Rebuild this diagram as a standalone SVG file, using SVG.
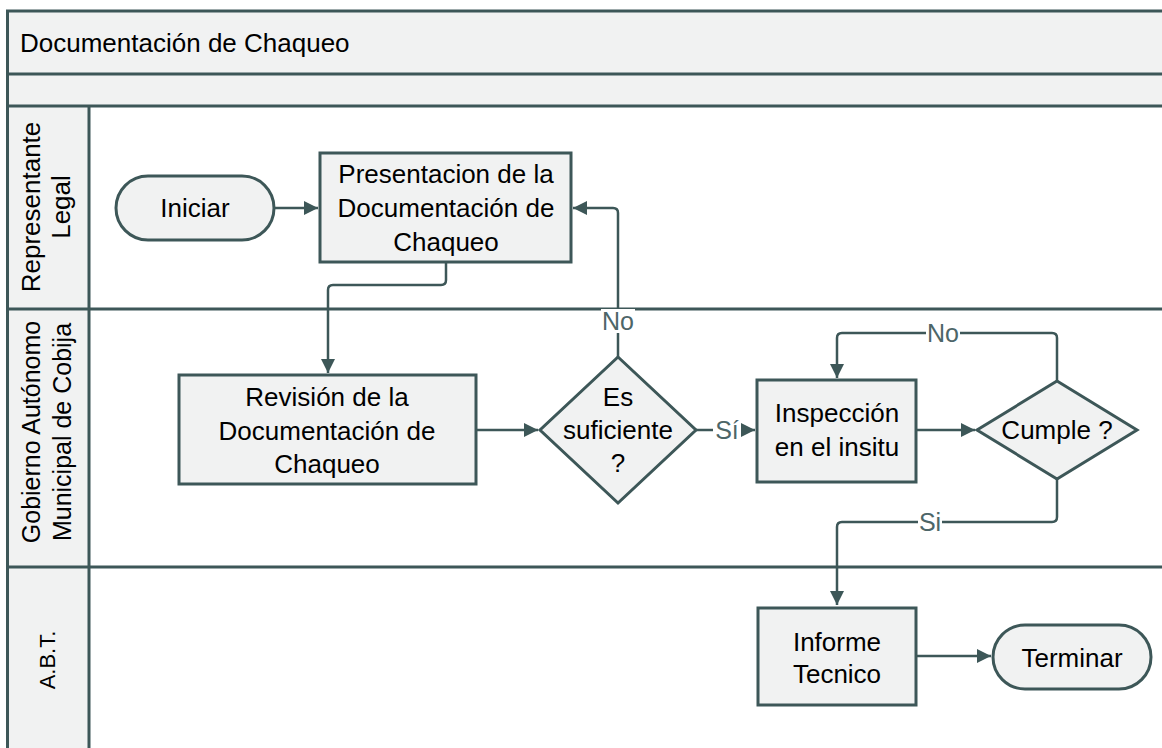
<svg xmlns="http://www.w3.org/2000/svg" width="1162" height="748" viewBox="0 0 1162 748">
<style>
.frame{fill:none;stroke:#3d5758;stroke-width:3}
.band{fill:#f1f2f2}
.node{fill:#f1f2f2;stroke:#3d5758;stroke-width:3}
.t{font-family:"Liberation Sans",Arial,sans-serif;font-size:26px;fill:#000;text-anchor:middle}
.lane{font-family:"Liberation Sans",Arial,sans-serif;font-size:25px;fill:#000;text-anchor:middle}
.conn{fill:none;stroke:#3d5758;stroke-width:2.5}
.lbl{font-family:"Liberation Sans",Arial,sans-serif;font-size:25px;fill:#4d6668;text-anchor:middle}
</style>
<defs>
<marker id="arr" markerUnits="userSpaceOnUse" markerWidth="16" markerHeight="16" refX="14" refY="7" orient="auto">
<path d="M0,0 L14,7 L0,14 Z" fill="#3d5758"/>
</marker>
</defs>
<rect x="0" y="0" width="1162" height="748" fill="#fff"/>
<g id="pool">
<rect class="band" x="7" y="11" width="1160" height="95"/>
<rect class="band" x="7" y="106" width="82" height="645"/>
<path class="frame" d="M1165,11 H7.5 V750 M7,74 H1165 M7,106 H1165 M89,106 V750 M7,309 H1165 M7,567 H1165"/>
<text x="20" y="52" font-family="Liberation Sans,Arial,sans-serif" font-size="26" fill="#000">Documentación de Chaqueo</text>
</g>
<g id="lane-representante">
<text class="lane" style="font-size:26px" transform="translate(40,207) rotate(-90)"><tspan x="0" y="0">Representante</tspan><tspan x="0" y="30">Legal</tspan></text>
</g>
<g id="lane-gobierno">
<text class="lane" transform="translate(40,432) rotate(-90)"><tspan x="0" y="0">Gobierno Autónomo</tspan><tspan x="0" y="31">Municipal de Cobija</tspan></text>
</g>
<g id="lane-abt">
<text class="lane" style="font-size:22px" transform="translate(55,660) rotate(-90)">A.B.T.</text>
</g>
<g id="connectors">
<path class="conn" d="M274,208 H318" marker-end="url(#arr)"/>
<path class="conn" d="M446,262 V280 Q446,285 441,285 H333 Q328,285 328,290 V373" marker-end="url(#arr)"/>
<path class="conn" d="M476,430 H538" marker-end="url(#arr)"/>
<path class="conn" d="M618,357 V213 Q618,208 613,208 H573" marker-end="url(#arr)"/>
<path class="conn" d="M696,430 H755" marker-end="url(#arr)"/>
<path class="conn" d="M916,430 H975" marker-end="url(#arr)"/>
<path class="conn" d="M1057,381 V338 Q1057,333 1052,333 H842 Q837,333 837,338 V378" marker-end="url(#arr)"/>
<path class="conn" d="M1057,479 V517 Q1057,522 1052,522 H842 Q837,522 837,527 V605" marker-end="url(#arr)"/>
<path class="conn" d="M916,656 H991" marker-end="url(#arr)"/>
<rect x="601" y="309" width="34" height="24" fill="#fff"/>
<text class="lbl" x="618" y="330">No</text>
<rect x="713" y="418" width="28" height="24" fill="#fff"/>
<text class="lbl" x="727" y="439">Sí</text>
<rect x="926" y="321" width="34" height="24" fill="#fff"/>
<text class="lbl" x="943" y="342">No</text>
<rect x="918" y="510" width="24" height="24" fill="#fff"/>
<text class="lbl" x="930" y="531">Si</text>
</g>
<g id="iniciar">
<rect class="node" x="116" y="176" width="158" height="64" rx="32"/>
<text class="t" x="195" y="217">Iniciar</text>
</g>
<g id="presentacion">
<rect class="node" x="320" y="153" width="251" height="109"/>
<text class="t" x="446" y="183">Presentacion de la</text>
<text class="t" x="446" y="217">Documentación de</text>
<text class="t" x="446" y="251">Chaqueo</text>
</g>
<g id="revision">
<rect class="node" x="179" y="375" width="297" height="109"/>
<text class="t" x="327" y="406">Revisión de la</text>
<text class="t" x="327" y="440">Documentación de</text>
<text class="t" x="327" y="473">Chaqueo</text>
</g>
<g id="suficiente">
<path class="node" d="M618,357 L696,430 L618,503 L540,430 Z"/>
<text class="t" x="618" y="406">Es</text>
<text class="t" x="618" y="439">suficiente</text>
<text class="t" x="618" y="472">?</text>
</g>
<g id="inspeccion">
<rect class="node" x="757" y="380" width="159" height="102"/>
<text class="t" x="837" y="422">Inspección</text>
<text class="t" x="837" y="456">en el insitu</text>
</g>
<g id="cumple">
<path class="node" d="M1057,381 L1137,430 L1057,479 L977,430 Z"/>
<text class="t" x="1057" y="439">Cumple ?</text>
</g>
<g id="informe">
<rect class="node" x="758" y="608" width="158" height="97"/>
<text class="t" x="837" y="651">Informe</text>
<text class="t" x="837" y="683">Tecnico</text>
</g>
<g id="terminar">
<rect class="node" x="993" y="625" width="158" height="64" rx="32"/>
<text class="t" x="1072" y="667">Terminar</text>
</g>
</svg>
